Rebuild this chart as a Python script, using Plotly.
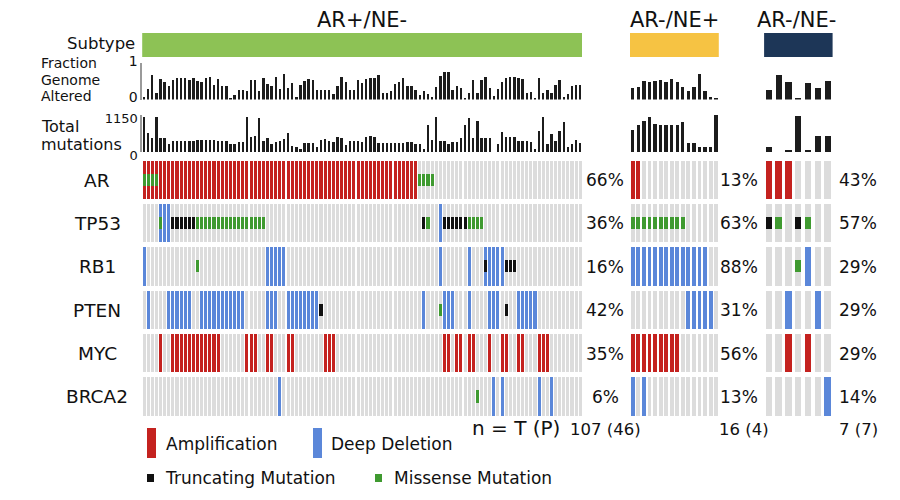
import plotly.graph_objects as go

W, H = 900, 500
FONT = "DejaVu Sans, Liberation Sans, Arial, sans-serif"

GROUPS = ["AR+/NE-", "AR-/NE+", "AR-/NE-"]
GENES = ["AR", "TP53", "RB1", "PTEN", "MYC", "BRCA2"]
N_SAMPLES = [107, 16, 7]
N_LABELS = ["107 (46)", "16 (4)", "7 (7)"]
SUBTYPE_COLORS = ["#8dc255", "#f6c343", "#1d3657"]

# Fraction genome altered (0..1)
FGA_ARPOS = [0.08, 0.29, 0.67, 0.17, 0.57, 0.49, 0.38, 0.53, 0.58, 0.58,
             0.59, 0.53, 0.60, 0.51, 0.49, 0.59, 0.61, 0.41, 0.57, 0.38,
             0.36, 0.03, 0.12, 0.25, 0.25, 0.22, 0.53, 0.53, 0.22, 0.58,
             0.43, 0.36, 0.62, 0.28, 0.69, 0.31, 0.45, 0.08, 0.39, 0.51,
             0.57, 0.53, 0.26, 0.25, 0.25, 0.25, 0.15, 0.38, 0.61, 0.49,
             0.26, 0.26, 0.53, 0.45, 0.55, 0.58, 0.58, 0.66, 0.17, 0.17,
             0.24, 0.43, 0.48, 0.58, 0.38, 0.38, 0.26, 0.12, 0.22, 0.14,
             0.06, 0.34, 0.64, 0.75, 0.75, 0.25, 0.38, 0.31, 0.05, 0.17,
             0.53, 0.17, 0.53, 0.62, 0.31, 0.09, 0.28, 0.47, 0.58, 0.62,
             0.62, 0.58, 0.57, 0.17, 0.20, 0.03, 0.59, 0.17, 0.26, 0.17,
             0.41, 0.53, 0.08, 0.15, 0.36, 0.39, 0.39]
FGA_NEPOS = [0.31, 0.35, 0.50, 0.48, 0.50, 0.54, 0.48, 0.57, 0.48, 0.33,
             0.24, 0.35, 0.70, 0.24, 0.07, 0.05]
FGA_DN = [0.26, 0.66, 0.49, 0.03, 0.46, 0.31, 0.51]

# Total mutations (0..1150)
TMB_ARPOS = [1100, 590, 440, 1080, 420, 420, 235, 335, 335, 335,
             335, 350, 335, 380, 360, 380, 380, 360, 335, 335,
             335, 235, 235, 315, 315, 1100, 470, 490, 1050, 335,
             420, 235, 315, 335, 410, 590, 180, 160, 80, 265,
             265, 265, 160, 365, 410, 355, 305, 470, 420, 215,
             355, 355, 335, 305, 470, 510, 470, 285, 285, 285,
             285, 285, 285, 285, 315, 305, 235, 235, 100, 845,
             387, 1080, 355, 355, 235, 315, 315, 420, 845, 1050,
             420, 965, 420, 420, 420, 0, 255, 610, 470, 470,
             470, 335, 335, 335, 305, 100, 640, 1080, 255, 570,
             335, 640, 945, 160, 235, 365, 265]
TMB_NEPOS = [690, 850, 960, 1100, 880, 850, 850, 850, 850, 925,
             290, 290, 160, 170, 160, 1150]
TMB_DN = [160, 0, 40, 1120, 40, 510, 510]

PCT_LABELS = [["66%", "36%", "16%", "42%", "35%", "6%"],
              ["13%", "63%", "88%", "31%", "56%", "13%"],
              ["43%", "57%", "29%", "29%", "29%", "14%"]]

# Alterations: gene -> list of inclusive sample-index spans
AMP_ARPOS = {"AR": [(0, 66)],
             "MYC": [(4, 4), (7, 18), (25, 27), (30, 31), (35, 36), (44, 46),
                     (73, 74), (76, 77), (79, 80), (84, 84), (87, 88),
                     (91, 92), (96, 98)]}
DEL_ARPOS = {"TP53": [(4, 6), (72, 72)],
             "RB1": [(0, 0), (30, 34), (72, 72), (79, 79), (83, 87)],
             "PTEN": [(1, 1), (6, 11), (14, 24), (30, 32), (35, 42), (68, 68),
                      (73, 75), (79, 79), (84, 86), (91, 95)],
             "BRCA2": [(33, 33), (85, 85), (87, 87), (96, 96), (99, 99)]}
TRUNC_ARPOS = {"TP53": [(7, 12), (68, 68), (73, 78)],
               "RB1": [(83, 83), (88, 90)],
               "PTEN": [(43, 43), (88, 88)]}
MISS_ARPOS = {"AR": [(0, 3), (67, 70)],
              "TP53": [(4, 4), (13, 29), (69, 69), (79, 82)],
              "RB1": [(13, 13)],
              "PTEN": [(72, 72)],
              "BRCA2": [(81, 81)]}

AMP_NEPOS = {"AR": [(0, 1)], "MYC": [(0, 8)]}
DEL_NEPOS = {"RB1": [(0, 13)], "PTEN": [(10, 14)], "BRCA2": [(0, 0), (2, 2)]}
TRUNC_NEPOS = {}
MISS_NEPOS = {"TP53": [(0, 9)]}

AMP_DN = {"AR": [(0, 2)], "MYC": [(2, 2), (4, 4)]}
DEL_DN = {"RB1": [(4, 4)], "PTEN": [(2, 2), (5, 5)], "BRCA2": [(6, 6)]}
TRUNC_DN = {"TP53": [(0, 0), (3, 3)]}
MISS_DN = {"TP53": [(1, 1), (4, 4)], "RB1": [(3, 3)]}

FGA = [FGA_ARPOS, FGA_NEPOS, FGA_DN]
TMB = [TMB_ARPOS, TMB_NEPOS, TMB_DN]
AMP = [AMP_ARPOS, AMP_NEPOS, AMP_DN]
DEL = [DEL_ARPOS, DEL_NEPOS, DEL_DN]
TRUNC = [TRUNC_ARPOS, TRUNC_NEPOS, TRUNC_DN]
MISS = [MISS_ARPOS, MISS_NEPOS, MISS_DN]

# ---- styling / layout (pixel positions) ----
C_GRAY = "#dcdcdc"
C_AMP = "#c4221f"
C_DEL = "#5b87d9"
C_TRUNC = "#111111"
C_MISS = "#3f9a30"
C_BAR = "#1c1c1c"

COL_PX = [(142.2, 582.5), (629.9, 718.8), (764.1, 832.6)]
CELL_W = [0.74, 0.7, 0.66]
BAR_W = [0.58, 0.6, 0.62]
PANEL_PY = {"sub": (33, 57), "fga": (63, 99.5), "tmb": (115, 152), "onco": (158.4, 418.6)}
CELL_H = 0.88
MUT_H = 0.28


def px_x(p):
    return p / W


def px_y(p):
    return 1 - p / H


def expand(spans):
    out = []
    for a, b in spans:
        out.extend(range(a, b + 1))
    return out


def row_of(gene):
    return len(GENES) - 1 - GENES.index(gene)


fig = go.Figure()
layout_axes = {}
panels = ["sub", "fga", "tmb", "onco"]

for g in range(3):
    n = N_SAMPLES[g]
    xs = list(range(n))
    for p_i, pname in enumerate(panels):
        k = g * 4 + p_i + 1
        xa = "x" if k == 1 else f"x{k}"
        ya = "y" if k == 1 else f"y{k}"
        xkey = "xaxis" if k == 1 else f"xaxis{k}"
        ykey = "yaxis" if k == 1 else f"yaxis{k}"
        x0, x1 = COL_PX[g]
        t, b = PANEL_PY[pname]
        layout_axes[xkey] = dict(domain=[px_x(x0), px_x(x1)], range=[-0.5, n - 0.5],
                                 anchor=ya, visible=False, fixedrange=True, automargin=False)
        yax = dict(domain=[px_y(b), px_y(t)], anchor=xa, visible=False, fixedrange=True,
                   automargin=False)

        if pname == "sub":
            yax["range"] = [0, 1]
            fig.add_trace(go.Bar(x=xs, y=[1] * n, base=0, width=1.0,
                                 marker=dict(color=SUBTYPE_COLORS[g], line_width=0),
                                 xaxis=xa, yaxis=ya, showlegend=False, hoverinfo="skip"))
        elif pname == "fga":
            yax["range"] = [0, 1]
            fig.add_trace(go.Bar(x=xs, y=FGA[g], width=BAR_W[g],
                                 marker=dict(color=C_BAR, line_width=0),
                                 xaxis=xa, yaxis=ya, showlegend=False))
            if g == 0:
                yax.update(visible=True, showline=True, linecolor="#9a9a9a", linewidth=1.5,
                           showgrid=False, zeroline=False, ticks="",
                           tickvals=[0, 1], ticktext=["0", "1"], ticklabelshift=-2,
                           tickfont=dict(size=14, color="#111", family=FONT))
        elif pname == "tmb":
            yax["range"] = [0, 1150]
            fig.add_trace(go.Bar(x=xs, y=TMB[g], width=BAR_W[g],
                                 marker=dict(color=C_BAR, line_width=0),
                                 xaxis=xa, yaxis=ya, showlegend=False))
            if g == 0:
                yax.update(visible=True, showline=True, linecolor="#9a9a9a", linewidth=1.5,
                           showgrid=False, zeroline=False, ticks="",
                           tickvals=[0, 1150], ticktext=["0", "1150"], ticklabelshift=3,
                           tickfont=dict(size=13, color="#111", family=FONT))
        else:
            yax["range"] = [-0.5, len(GENES) - 0.5]
            # background cells
            bx, bb = [], []
            for gene in GENES:
                r = row_of(gene)
                bx += xs
                bb += [r - CELL_H / 2] * n
            fig.add_trace(go.Bar(x=bx, y=[CELL_H] * len(bx), base=bb, width=CELL_W[g],
                                 marker=dict(color=C_GRAY, line_width=0),
                                 xaxis=xa, yaxis=ya, showlegend=False))
            for table, color, hgt in [(AMP[g], C_AMP, CELL_H), (DEL[g], C_DEL, CELL_H),
                                      (TRUNC[g], C_TRUNC, MUT_H), (MISS[g], C_MISS, MUT_H)]:
                ax_, ab_ = [], []
                for gene, spans in table.items():
                    idx = expand(spans)
                    r = row_of(gene)
                    ax_ += idx
                    ab_ += [r - hgt / 2] * len(idx)
                if ax_:
                    fig.add_trace(go.Bar(x=ax_, y=[hgt] * len(ax_), base=ab_, width=CELL_W[g],
                                         marker=dict(color=color, line_width=0),
                                         xaxis=xa, yaxis=ya, showlegend=False))
        layout_axes[ykey] = yax

annotations = []


def txt(text, x, y, size, xanchor="center", yanchor="middle", yref="paper", xref="paper"):
    annotations.append(dict(text=text, x=x, y=y, xref=xref, yref=yref, showarrow=False,
                            xanchor=xanchor, yanchor=yanchor,
                            font=dict(family=FONT, size=size, color="#111")))


# group titles
title_px = [362, 674, 796]
for g in range(3):
    txt(GROUPS[g], px_x(title_px[g]), px_y(20), 21)

# left labels
txt("Subtype", px_x(137), px_y(44), 16.5, xanchor="right")
txt("Fraction", px_x(39), px_y(63), 14, xanchor="left")
txt("Genome", px_x(39), px_y(79.5), 14, xanchor="left")
txt("Altered", px_x(39), px_y(96), 14, xanchor="left")
txt("Total", px_x(39), px_y(126), 16, xanchor="left")
txt("mutations", px_x(39), px_y(144), 16, xanchor="left")

# gene labels and percentages (on oncoprint row axis of each group)
pct_px = [605, 739, 858]
onco_y = ["y4", "y8", "y12"]
for gene in GENES:
    r = row_of(gene)
    txt(gene, px_x(97), r, 18.5, yref="y4")
    for g in range(3):
        txt(PCT_LABELS[g][GENES.index(gene)], px_x(pct_px[g]), r, 17, yref=onco_y[g])

# n labels
txt("n = T (P)", px_x(470), px_y(428), 20, xanchor="left")
n_px = [568, 717, 837]
for g in range(3):
    txt(N_LABELS[g], px_x(n_px[g]), px_y(429), 16.5, xanchor="left")

# legend
shapes = []


def rect(x0, y0, x1, y1, color):
    shapes.append(dict(type="rect", xref="paper", yref="paper", x0=px_x(x0), x1=px_x(x1),
                       y0=px_y(y1), y1=px_y(y0), fillcolor=color, line_width=0))


rect(147, 428, 156, 458, C_AMP)
txt("Amplification", px_x(164), px_y(444), 17, xanchor="left")
rect(313, 428, 322, 458, C_DEL)
txt("Deep Deletion", px_x(329), px_y(444), 17, xanchor="left")
rect(147, 474, 154, 482, C_TRUNC)
txt("Truncating Mutation", px_x(163), px_y(478), 17, xanchor="left")
rect(375, 474, 382, 482, C_MISS)
txt("Missense Mutation", px_x(392), px_y(478), 17, xanchor="left")

fig.update_layout(width=W, height=H, margin=dict(l=0, r=0, t=0, b=0, autoexpand=False),
                  paper_bgcolor="white", plot_bgcolor="white",
                  barmode="overlay", bargap=0, showlegend=False,
                  annotations=annotations, shapes=shapes,
                  font=dict(family=FONT), hovermode=False, **layout_axes)

fig.write_html("out.html", config={"displayModeBar": False},
               post_script="document.body.style.margin='0px';document.body.style.padding='0px';")
